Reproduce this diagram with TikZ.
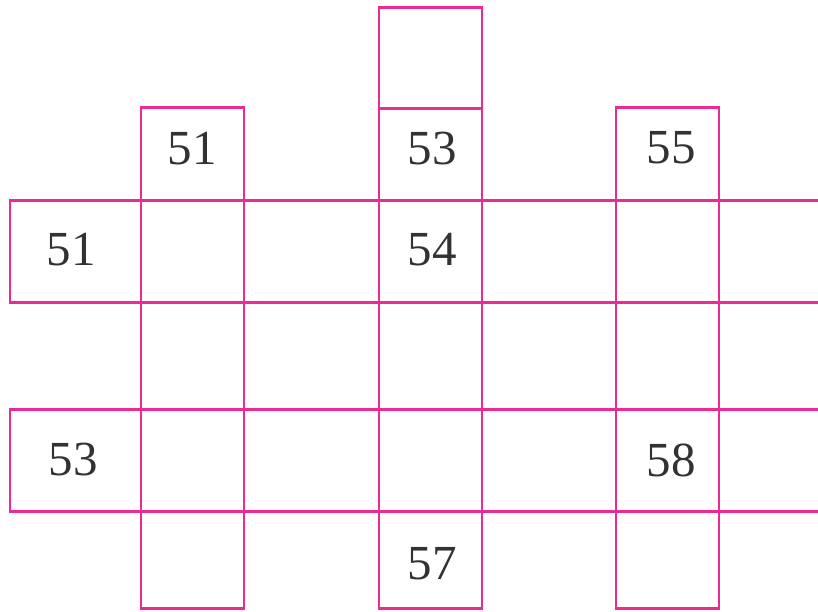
\documentclass[tikz,border=0pt]{standalone}
\usepackage{fontspec}
\setmainfont{Liberation Serif}
\definecolor{gridpink}{RGB}{236,42,150}
\definecolor{numgray}{RGB}{50,50,50}
\tikzset{
  cellline/.style={draw=gridpink, line width=2.5pt},
  num/.style={font=\fontsize{49}{49}\selectfont, text=numgray, inner sep=0pt}
}
\begin{document}
\begin{tikzpicture}[x=1pt,y=-1pt]
\useasboundingbox (0,0) rectangle (818,611);
\clip (0,0) rectangle (818,611);
% rows
\draw[cellline] (10,200.5) rectangle (840,302.5);
\draw[cellline] (10,409.5) rectangle (840,511.5);
% columns
\draw[cellline] (141,107.5) rectangle (244,608.5);
\draw[cellline] (379,7.5) rectangle (482,608.5);
\draw[cellline] (379,108.5) -- (482,108.5);
\draw[cellline] (616,107.5) rectangle (719,608.5);
% numbers
\node[num] (a1) at (192,149) {51};
\node[num] (b1) at (432,149) {53};
\node[num] (c1) at (671,148) {55};
\node[num] (r1) at (71,250) {51};
\node[num] (b2) at (432,250) {54};
\node[num] (r2) at (73,460) {53};
\node[num] (c2) at (671,460) {58};
\node[num] (b3) at (432,564) {57};
\end{tikzpicture}
\end{document}
